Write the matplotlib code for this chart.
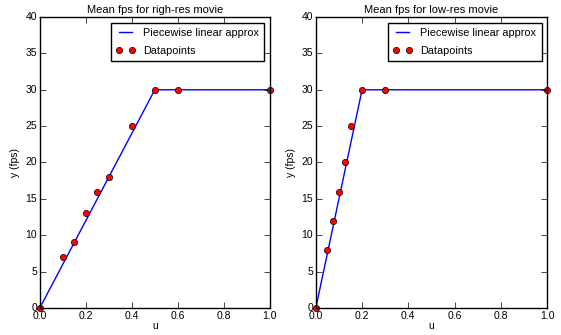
import matplotlib
matplotlib.use('Agg')
import matplotlib.pyplot as plt

# high-res movie
hi_u = [0.0, 0.1, 0.15, 0.2, 0.25, 0.3, 0.4, 0.5, 0.6, 1.0]
hi_fps = [0, 7, 9, 13, 16, 18, 25, 30, 30, 30]
hi_line_u = [0.0, 0.5, 1.0]
hi_line_fps = [0, 30, 30]

# low-res movie
lo_u = [0.0, 0.05, 0.075, 0.1, 0.125, 0.15, 0.2, 0.3, 1.0]
lo_fps = [0, 8, 12, 16, 20, 25, 30, 30, 30]
lo_line_u = [0.0, 0.2, 1.0]
lo_line_fps = [0, 30, 30]

plt.style.use('classic')
plt.rcParams['font.family'] = ['Liberation Sans', 'DejaVu Sans']
plt.rcParams['font.size'] = 7.5

fig = plt.figure(figsize=(5.61, 3.35), dpi=100)
fig.patch.set_facecolor('white')

panels = [
    (hi_u, hi_fps, hi_line_u, hi_line_fps, 'Mean fps for righ-res movie', [0.071, 0.081, 0.410, 0.868]),
    (lo_u, lo_fps, lo_line_u, lo_line_fps, 'Mean fps for low-res movie', [0.563, 0.081, 0.412, 0.868]),
]

for u, fps, lu, lfps, title, rect in panels:
    ax = fig.add_axes(rect)
    ax.plot(lu, lfps, 'b-', label='Piecewise linear approx')
    ax.plot(u, fps, 'ro', markersize=4.5, label='Datapoints', clip_on=False)
    ax.set_xlim(0, 1)
    ax.set_ylim(0, 40)
    ax.set_xlabel('u', labelpad=0)
    ax.set_ylabel('y (fps)', labelpad=4)
    ax.set_title(title, fontsize=8, pad=3)
    ax.tick_params(labelsize=7.5, pad=2)
    ax.legend(loc='upper right', numpoints=2, fontsize=7.8,
              labelspacing=0.7, borderpad=0.5, handletextpad=0.7,
              handlelength=1.8)

fig.savefig('out.png', dpi=100, facecolor='white')
